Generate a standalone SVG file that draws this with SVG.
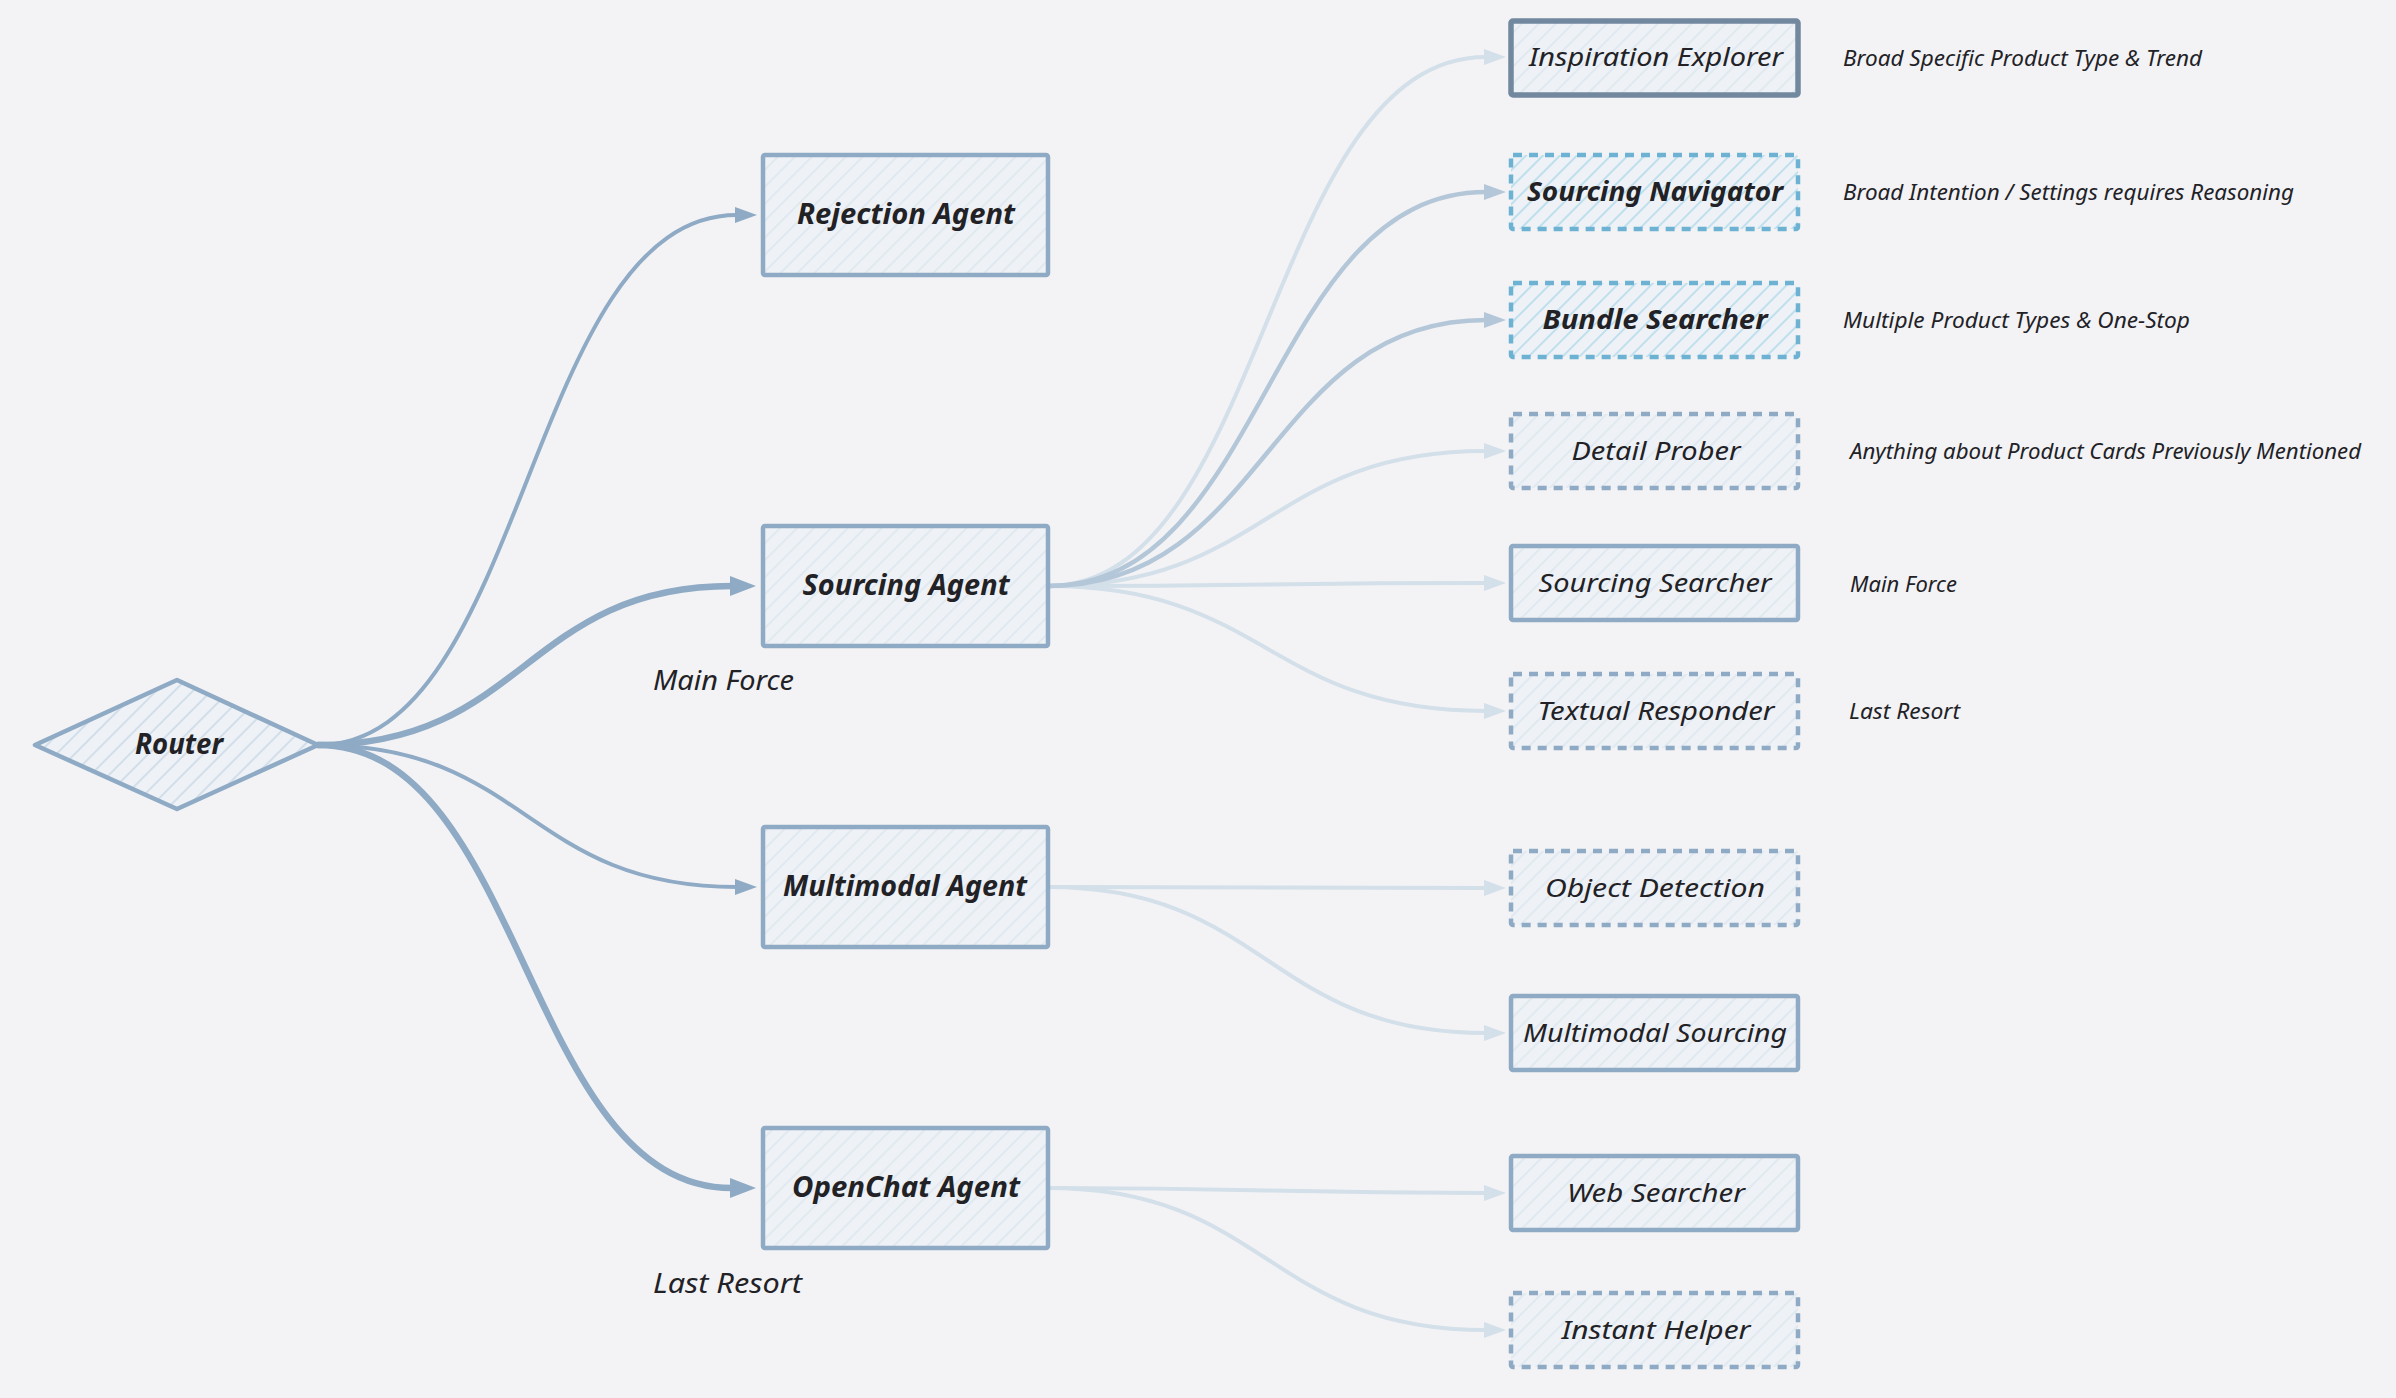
<svg xmlns="http://www.w3.org/2000/svg" width="2396" height="1398" viewBox="0 0 2396 1398">
<style>
  .lbl { font-family: "Noto Sans", "Open Sans", sans-serif; font-style: italic; fill: #222226; text-anchor: middle; }
  .b { font-weight: bold; }
  .ann { font-family: "Noto Sans", "Open Sans", sans-serif; font-style: italic; fill: #222226; font-size: 22px; }
  .side { font-family: "Noto Sans", "Open Sans", sans-serif; font-style: italic; fill: #222226; font-size: 28px; }
  .box { fill: url(#hatch); stroke: #8eaac4; stroke-width: 4.5; }
  .dash { stroke-dasharray: 9 7; }
  .blue { fill: url(#hatchBlue); stroke: #6db2d2; stroke-width: 4.5; stroke-dasharray: 9 7; }
  .dark { stroke: #71889f; stroke-width: 5.5; }
  .e { fill: none; stroke-linecap: round; }
  .e1 { stroke: #8eaac4; stroke-width: 4; }
  .e2 { stroke: #8eaac4; stroke-width: 6.5; }
  .lt { stroke: #d3dfe9; stroke-width: 4; }
  .md { stroke: #b4c7d8; stroke-width: 4.5; }
</style>
<defs>
  <pattern id="hatch" width="12" height="12" patternUnits="userSpaceOnUse" patternTransform="rotate(45)">
    <rect width="12" height="12" fill="#eef1f5"/>
    <line x1="0" y1="0" x2="0" y2="12" stroke="#dfe8f0" stroke-width="3.5"/>
  </pattern>
  <pattern id="hatchBlue" width="12" height="12" patternUnits="userSpaceOnUse" patternTransform="rotate(45)">
    <rect width="12" height="12" fill="#eef2f6"/>
    <line x1="0" y1="0" x2="0" y2="12" stroke="#bfdfed" stroke-width="4"/>
  </pattern>
  <pattern id="hatchRouter" width="13" height="13" patternUnits="userSpaceOnUse" patternTransform="rotate(45)">
    <rect width="13" height="13" fill="#eef1f5"/>
    <line x1="0" y1="0" x2="0" y2="13" stroke="#d2dfea" stroke-width="4"/>
  </pattern>
  <marker id="ahDark" markerUnits="userSpaceOnUse" viewBox="0 0 22 16" markerWidth="22" markerHeight="16" refX="2" refY="8" orient="auto">
    <path d="M0,0 L22,8 L0,16 z" fill="#8eaac4"/>
  </marker>
  <marker id="ahDarkBig" markerUnits="userSpaceOnUse" viewBox="0 0 26 20" markerWidth="26" markerHeight="20" refX="2" refY="10" orient="auto">
    <path d="M0,0 L26,10 L0,20 z" fill="#8eaac4"/>
  </marker>
  <marker id="ahLight" markerUnits="userSpaceOnUse" viewBox="0 0 22 16" markerWidth="22" markerHeight="16" refX="2" refY="8" orient="auto">
    <path d="M0,0 L22,8 L0,16 z" fill="#d3dfe9"/>
  </marker>
  <marker id="ahMed" markerUnits="userSpaceOnUse" viewBox="0 0 22 16" markerWidth="22" markerHeight="16" refX="2" refY="8" orient="auto">
    <path d="M0,0 L22,8 L0,16 z" fill="#b4c7d8"/>
  </marker>
</defs>

<rect width="2396" height="1398" fill="#f3f3f6"/>

<g id="connectors">
  <path class="e e1" d="M318,745 C527,745 527,215 737,215" marker-end="url(#ahDark)"/>
  <path class="e e2" d="M318,745 C525,745 525,586 732,586" marker-end="url(#ahDarkBig)"/>
  <path class="e e1" d="M318,745 C527,745 527,887 737,887" marker-end="url(#ahDark)"/>
  <path class="e e2" d="M318,745 C525,745 525,1188 732,1188" marker-end="url(#ahDarkBig)"/>

  <path class="e lt" d="M1048,586 C1267,586 1267,57 1486,57" marker-end="url(#ahLight)"/>
  <path class="e lt" d="M1048,586 C1267,586 1267,451 1486,451" marker-end="url(#ahLight)"/>
  <path class="e lt" d="M1048,586 C1267,586 1267,583 1486,583" marker-end="url(#ahLight)"/>
  <path class="e lt" d="M1048,586 C1267,586 1267,711 1486,711" marker-end="url(#ahLight)"/>
  <path class="e md" d="M1048,586 C1267,586 1267,192 1486,192" marker-end="url(#ahMed)"/>
  <path class="e md" d="M1048,586 C1267,586 1267,320 1486,320" marker-end="url(#ahMed)"/>

  <path class="e lt" d="M1048,887 C1267,887 1267,888 1486,888" marker-end="url(#ahLight)"/>
  <path class="e lt" d="M1048,887 C1267,887 1267,1033 1486,1033" marker-end="url(#ahLight)"/>

  <path class="e lt" d="M1048,1188 C1267,1188 1267,1193 1486,1193" marker-end="url(#ahLight)"/>
  <path class="e lt" d="M1048,1188 C1267,1188 1267,1330 1486,1330" marker-end="url(#ahLight)"/>
</g>

<g id="router">
  <polygon points="35,745 177,680 318,745 177,809" fill="url(#hatchRouter)" stroke="#8eaac4" stroke-width="4.5" stroke-linejoin="round"/>
  <text class="lbl b" x="179" y="754" font-size="29" textLength="88" lengthAdjust="spacingAndGlyphs">Router</text>
</g>

<g id="rejection-agent">
  <rect class="box" x="763" y="155" width="285" height="120" rx="2"/>
  <text class="lbl b" x="906" y="224" font-size="28" textLength="218" lengthAdjust="spacingAndGlyphs">Rejection Agent</text>
</g>

<g id="sourcing-agent">
  <rect class="box" x="763" y="526" width="285" height="120" rx="2"/>
  <text class="lbl b" x="906" y="595" font-size="28" textLength="207" lengthAdjust="spacingAndGlyphs">Sourcing Agent</text>
</g>
<text id="label-main-force" class="side" x="653" y="690" textLength="141" lengthAdjust="spacingAndGlyphs">Main Force</text>

<g id="multimodal-agent">
  <rect class="box" x="763" y="827" width="285" height="120" rx="2"/>
  <text class="lbl b" x="905" y="896" font-size="28" textLength="244" lengthAdjust="spacingAndGlyphs">Multimodal Agent</text>
</g>

<g id="openchat-agent">
  <rect class="box" x="763" y="1128" width="285" height="120" rx="2"/>
  <text class="lbl b" x="906" y="1197" font-size="28" textLength="228" lengthAdjust="spacingAndGlyphs">OpenChat Agent</text>
</g>
<text id="label-last-resort" class="side" x="653" y="1293" textLength="149" lengthAdjust="spacingAndGlyphs">Last Resort</text>

<g id="inspiration-explorer">
  <rect class="box dark" x="1511" y="21" width="287" height="74" rx="2"/>
  <text class="lbl" x="1656" y="66" font-size="26" textLength="254" lengthAdjust="spacingAndGlyphs">Inspiration Explorer</text>
  <text class="ann" x="1843" y="66" textLength="359" lengthAdjust="spacingAndGlyphs">Broad Specific Product Type &amp; Trend</text>
</g>

<g id="sourcing-navigator">
  <rect class="blue" x="1511" y="155" width="287" height="74" rx="2"/>
  <text class="lbl b" x="1655" y="201" font-size="26" textLength="256" lengthAdjust="spacingAndGlyphs">Sourcing Navigator</text>
  <text class="ann" x="1843" y="200" textLength="451" lengthAdjust="spacingAndGlyphs">Broad Intention / Settings requires Reasoning</text>
</g>

<g id="bundle-searcher">
  <rect class="blue" x="1511" y="283" width="287" height="74" rx="2"/>
  <text class="lbl b" x="1655" y="329" font-size="26" textLength="225" lengthAdjust="spacingAndGlyphs">Bundle Searcher</text>
  <text class="ann" x="1843" y="328" textLength="347" lengthAdjust="spacingAndGlyphs">Multiple Product Types &amp; One-Stop</text>
</g>

<g id="detail-prober">
  <rect class="box dash" x="1511" y="414" width="287" height="74" rx="2"/>
  <text class="lbl" x="1656" y="460" font-size="26" textLength="169" lengthAdjust="spacingAndGlyphs">Detail Prober</text>
  <text class="ann" x="1850" y="459" textLength="511" lengthAdjust="spacingAndGlyphs">Anything about Product Cards Previously Mentioned</text>
</g>

<g id="sourcing-searcher">
  <rect class="box" x="1511" y="546" width="287" height="74" rx="2"/>
  <text class="lbl" x="1655" y="592" font-size="26" textLength="233" lengthAdjust="spacingAndGlyphs">Sourcing Searcher</text>
  <text class="ann" x="1850" y="592" textLength="107" lengthAdjust="spacingAndGlyphs">Main Force</text>
</g>

<g id="textual-responder">
  <rect class="box dash" x="1511" y="674" width="287" height="74" rx="2"/>
  <text class="lbl" x="1656" y="720" font-size="26" textLength="237" lengthAdjust="spacingAndGlyphs">Textual Responder</text>
  <text class="ann" x="1849" y="719" textLength="111" lengthAdjust="spacingAndGlyphs">Last Resort</text>
</g>

<g id="object-detection">
  <rect class="box dash" x="1511" y="851" width="287" height="74" rx="2"/>
  <text class="lbl" x="1655" y="897" font-size="26" textLength="220" lengthAdjust="spacingAndGlyphs">Object Detection</text>
</g>

<g id="multimodal-sourcing">
  <rect class="box" x="1511" y="996" width="287" height="74" rx="2"/>
  <text class="lbl" x="1655" y="1042" font-size="26" textLength="264" lengthAdjust="spacingAndGlyphs">Multimodal Sourcing</text>
</g>

<g id="web-searcher">
  <rect class="box" x="1511" y="1156" width="287" height="74" rx="2"/>
  <text class="lbl" x="1656" y="1202" font-size="26" textLength="178" lengthAdjust="spacingAndGlyphs">Web Searcher</text>
</g>

<g id="instant-helper">
  <rect class="box dash" x="1511" y="1293" width="287" height="74" rx="2"/>
  <text class="lbl" x="1656" y="1339" font-size="26" textLength="189" lengthAdjust="spacingAndGlyphs">Instant Helper</text>
</g>
</svg>
